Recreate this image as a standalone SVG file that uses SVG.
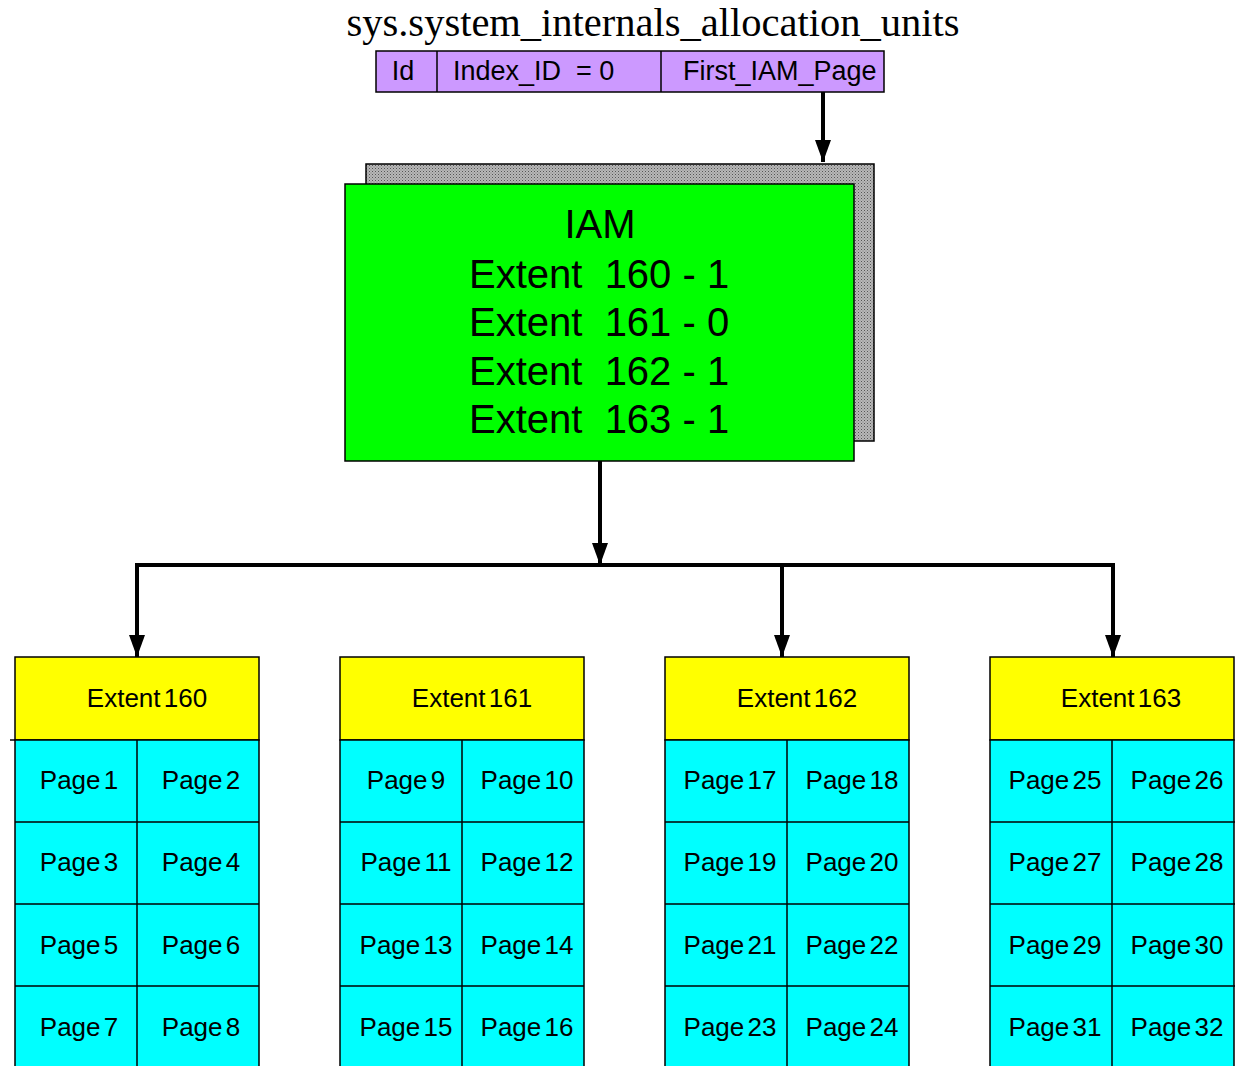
<svg xmlns="http://www.w3.org/2000/svg" width="1235" height="1066" viewBox="0 0 1235 1066">
  <defs>
    <pattern id="dots" width="3" height="3" patternUnits="userSpaceOnUse">
      <rect width="3" height="3" fill="#b8b8b8"/>
      <rect width="1" height="1" fill="#555"/>
      <rect x="1.5" y="1.5" width="1" height="1" fill="#777"/>
    </pattern>
    <marker id="head" viewBox="0 0 22 16" refX="22" refY="8" markerWidth="22" markerHeight="16" markerUnits="userSpaceOnUse" orient="auto">
      <path d="M0,0 L22,8 L0,16 z" fill="#000"/>
    </marker>
  </defs>
  <style>
    .cell { stroke: #000; stroke-width: 1.5; }
    .yellow { fill: #ffff00; }
    .cyan { fill: #00ffff; }
    .txt { font-family: "Liberation Sans", Arial, sans-serif; font-size: 26px; fill: #000; }
    .bar { font-size: 27px; }
    .mid { text-anchor: middle; word-spacing: -4px; }
    .big { font-family: "Liberation Sans", Arial, sans-serif; font-size: 40px; fill: #000; }
    .wire { stroke: #000; stroke-width: 4; fill: none; }
  </style>
  <rect width="1235" height="1066" fill="#fff"/>

  <!-- table header for the allocation units view -->
  <g id="alloc-units">
    <text x="653" y="36" text-anchor="middle" font-family="Liberation Serif, Times New Roman, serif" font-size="40.5">sys.system_internals_allocation_units</text>
    <rect x="376" y="51" width="508" height="41" fill="#cc99ff" class="cell"/>
    <line x1="437" y1="51" x2="437" y2="92" class="cell"/>
    <line x1="661" y1="51" x2="661" y2="92" class="cell"/>
    <text x="403" y="80" class="txt bar" text-anchor="middle">Id</text>
    <text x="453" y="80" class="txt bar" xml:space="preserve">Index_ID  = 0</text>
    <text x="683" y="80" class="txt bar">First_IAM_Page</text>
  </g>

  <!-- IAM page with stacked shadow page behind -->
  <g id="iam">
    <rect x="366" y="164" width="508" height="277" fill="url(#dots)" class="cell"/>
    <rect x="345" y="184" width="509" height="277" fill="#00ff00" class="cell"/>
    <text x="600" y="238" class="big" text-anchor="middle">IAM</text>
    <text x="469" y="288" class="big" xml:space="preserve">Extent  160 - 1</text>
    <text x="469" y="336" class="big" xml:space="preserve">Extent  161 - 0</text>
    <text x="469" y="385" class="big" xml:space="preserve">Extent  162 - 1</text>
    <text x="469" y="433" class="big" xml:space="preserve">Extent  163 - 1</text>
  </g>

  <!-- connectors -->
  <g id="connectors">
    <line x1="823" y1="92" x2="823" y2="162" class="wire" marker-end="url(#head)"/>
    <line x1="600" y1="461" x2="600" y2="565" class="wire" marker-end="url(#head)"/>
    <line x1="135" y1="565" x2="1115" y2="565" class="wire"/>
    <line x1="137" y1="565" x2="137" y2="657" class="wire" marker-end="url(#head)"/>
    <line x1="782" y1="565" x2="782" y2="657" class="wire" marker-end="url(#head)"/>
    <line x1="1113" y1="565" x2="1113" y2="657" class="wire" marker-end="url(#head)"/>
  </g>

  <!-- Extent 160 -->
  <g id="extent-160">
    <rect x="15" y="657" width="244" height="83" class="cell yellow"/>
    <line x1="10" y1="740" x2="15" y2="740" class="cell"/>
    <rect x="15" y="740" width="244" height="330" class="cell cyan"/>
    <line x1="137" y1="740" x2="137" y2="1070" class="cell"/>
    <line x1="15" y1="822" x2="259" y2="822" class="cell"/>
    <line x1="15" y1="904" x2="259" y2="904" class="cell"/>
    <line x1="15" y1="986" x2="259" y2="986" class="cell"/>
    <text x="147" y="707" class="txt mid">Extent 160</text>
    <text x="79" y="789" class="txt mid">Page 1</text>
    <text x="201" y="789" class="txt mid">Page 2</text>
    <text x="79" y="871" class="txt mid">Page 3</text>
    <text x="201" y="871" class="txt mid">Page 4</text>
    <text x="79" y="954" class="txt mid">Page 5</text>
    <text x="201" y="954" class="txt mid">Page 6</text>
    <text x="79" y="1036" class="txt mid">Page 7</text>
    <text x="201" y="1036" class="txt mid">Page 8</text>
  </g>

  <!-- Extent 161 -->
  <g id="extent-161">
    <rect x="340" y="657" width="244" height="83" class="cell yellow"/>
    <rect x="340" y="740" width="244" height="330" class="cell cyan"/>
    <line x1="462" y1="740" x2="462" y2="1070" class="cell"/>
    <line x1="340" y1="822" x2="584" y2="822" class="cell"/>
    <line x1="340" y1="904" x2="584" y2="904" class="cell"/>
    <line x1="340" y1="986" x2="584" y2="986" class="cell"/>
    <text x="472" y="707" class="txt mid">Extent 161</text>
    <text x="406" y="789" class="txt mid">Page 9</text>
    <text x="527" y="789" class="txt mid">Page 10</text>
    <text x="406" y="871" class="txt mid">Page 11</text>
    <text x="527" y="871" class="txt mid">Page 12</text>
    <text x="406" y="954" class="txt mid">Page 13</text>
    <text x="527" y="954" class="txt mid">Page 14</text>
    <text x="406" y="1036" class="txt mid">Page 15</text>
    <text x="527" y="1036" class="txt mid">Page 16</text>
  </g>

  <!-- Extent 162 -->
  <g id="extent-162">
    <rect x="665" y="657" width="244" height="83" class="cell yellow"/>
    <rect x="665" y="740" width="244" height="330" class="cell cyan"/>
    <line x1="787" y1="740" x2="787" y2="1070" class="cell"/>
    <line x1="665" y1="822" x2="909" y2="822" class="cell"/>
    <line x1="665" y1="904" x2="909" y2="904" class="cell"/>
    <line x1="665" y1="986" x2="909" y2="986" class="cell"/>
    <text x="797" y="707" class="txt mid">Extent 162</text>
    <text x="730" y="789" class="txt mid">Page 17</text>
    <text x="852" y="789" class="txt mid">Page 18</text>
    <text x="730" y="871" class="txt mid">Page 19</text>
    <text x="852" y="871" class="txt mid">Page 20</text>
    <text x="730" y="954" class="txt mid">Page 21</text>
    <text x="852" y="954" class="txt mid">Page 22</text>
    <text x="730" y="1036" class="txt mid">Page 23</text>
    <text x="852" y="1036" class="txt mid">Page 24</text>
  </g>

  <!-- Extent 163 -->
  <g id="extent-163">
    <rect x="990" y="657" width="244" height="83" class="cell yellow"/>
    <rect x="990" y="740" width="244" height="330" class="cell cyan"/>
    <line x1="1112" y1="740" x2="1112" y2="1070" class="cell"/>
    <line x1="990" y1="822" x2="1235" y2="822" class="cell"/>
    <line x1="990" y1="904" x2="1235" y2="904" class="cell"/>
    <line x1="990" y1="986" x2="1235" y2="986" class="cell"/>
    <text x="1121" y="707" class="txt mid">Extent 163</text>
    <text x="1055" y="789" class="txt mid">Page 25</text>
    <text x="1177" y="789" class="txt mid">Page 26</text>
    <text x="1055" y="871" class="txt mid">Page 27</text>
    <text x="1177" y="871" class="txt mid">Page 28</text>
    <text x="1055" y="954" class="txt mid">Page 29</text>
    <text x="1177" y="954" class="txt mid">Page 30</text>
    <text x="1055" y="1036" class="txt mid">Page 31</text>
    <text x="1177" y="1036" class="txt mid">Page 32</text>
  </g>
</svg>
